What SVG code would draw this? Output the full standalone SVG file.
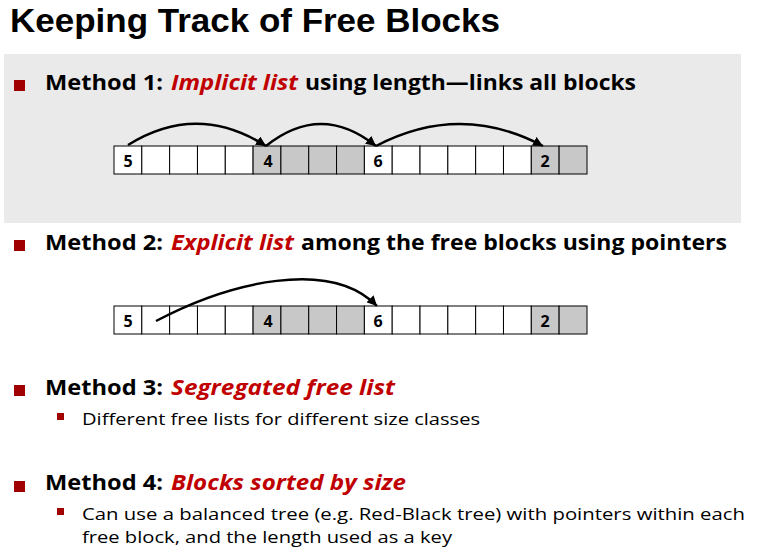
<svg xmlns="http://www.w3.org/2000/svg" width="762" height="551" viewBox="0 0 762 551">
  <defs>
    <style>
      .title { font-family: "Liberation Sans", Arial, sans-serif; font-weight: bold; font-size: 34px; fill: #000; }
      .head { font-family: "Open Sans", "Liberation Sans", sans-serif; font-weight: bold; font-size: 21px; fill: #000; }
      .em { font-family: "Open Sans", "Liberation Sans", sans-serif; font-weight: bold; font-style: italic; font-size: 21px; fill: #C00000; }
      .sub { font-family: "Open Sans", "Liberation Sans", sans-serif; font-size: 16.5px; fill: #000; }
      .num { font-family: "Open Sans", "Liberation Sans", sans-serif; font-weight: bold; font-size: 16px; fill: #000; text-anchor: middle; }
      .free { fill: #FFFFFF; stroke: #000; stroke-width: 1; }
      .used { fill: #C8C8C8; stroke: #000; stroke-width: 1; }
      .bullet { fill: #A00000; }
      .link { fill: none; stroke: #000; stroke-width: 2.5; marker-end: url(#head); }
    </style>
    <marker id="head" markerUnits="userSpaceOnUse" markerWidth="12" markerHeight="10" refX="10" refY="5" orient="auto">
      <path d="M0,0 L10,5 L0,10 Z" fill="#000"/>
    </marker>
    <!-- one heap row: 17 words, allocated words shaded -->
    <g id="heapRow">
      <rect class="free" x="114" y="0" width="27.82" height="28"/>
      <rect class="free" x="141.82" y="0" width="27.82" height="28"/>
      <rect class="free" x="169.64" y="0" width="27.82" height="28"/>
      <rect class="free" x="197.46" y="0" width="27.82" height="28"/>
      <rect class="free" x="225.28" y="0" width="27.82" height="28"/>
      <rect class="used" x="253.1" y="0" width="27.82" height="28"/>
      <rect class="used" x="280.92" y="0" width="27.82" height="28"/>
      <rect class="used" x="308.74" y="0" width="27.82" height="28"/>
      <rect class="used" x="336.56" y="0" width="27.82" height="28"/>
      <rect class="free" x="364.38" y="0" width="27.82" height="28"/>
      <rect class="free" x="392.2" y="0" width="27.82" height="28"/>
      <rect class="free" x="420.02" y="0" width="27.82" height="28"/>
      <rect class="free" x="447.84" y="0" width="27.82" height="28"/>
      <rect class="free" x="475.66" y="0" width="27.82" height="28"/>
      <rect class="free" x="503.48" y="0" width="27.82" height="28"/>
      <rect class="used" x="531.3" y="0" width="27.82" height="28"/>
      <rect class="used" x="559.12" y="0" width="27.88" height="28"/>
      <text class="num" x="128" y="21">5</text>
      <text class="num" x="268" y="21">4</text>
      <text class="num" x="378" y="21">6</text>
      <text class="num" x="545" y="21">2</text>
    </g>
  </defs>

  <rect x="0" y="0" width="762" height="551" fill="#FFFFFF"/>

  <!-- heading -->
  <text class="title" x="10" y="32" textLength="490" lengthAdjust="spacingAndGlyphs">Keeping Track of Free Blocks</text>

  <!-- highlighted panel for method 1 -->
  <rect x="4" y="54" width="737" height="169" fill="#EAEAEA"/>

  <!-- method 1 -->
  <g id="method1">
    <rect class="bullet" x="14" y="80" width="11" height="11"/>
    <text class="head" x="45" y="90" textLength="118" lengthAdjust="spacingAndGlyphs">Method 1:</text>
    <text class="em" x="171" y="90" textLength="127" lengthAdjust="spacingAndGlyphs">Implicit list</text>
    <text class="head" x="305" y="90" textLength="331" lengthAdjust="spacingAndGlyphs">using length—links all blocks</text>
  </g>

  <g id="implicitList">
    <use href="#heapRow" y="146"/>
  </g>

  <!-- method 2 -->
  <g id="method2">
    <rect class="bullet" x="14" y="240" width="11" height="11"/>
    <text class="head" x="45" y="250" textLength="118" lengthAdjust="spacingAndGlyphs">Method 2:</text>
    <text class="em" x="171" y="250" textLength="123" lengthAdjust="spacingAndGlyphs">Explicit list</text>
    <text class="head" x="301" y="250" textLength="426" lengthAdjust="spacingAndGlyphs">among the free blocks using pointers</text>
  </g>

  <g id="explicitList">
    <use href="#heapRow" y="306"/>
  </g>

  <!-- method 3 -->
  <g id="method3">
    <rect class="bullet" x="14" y="385" width="11" height="11"/>
    <text class="head" x="45" y="395" textLength="118" lengthAdjust="spacingAndGlyphs">Method 3:</text>
    <text class="em" x="171" y="395" textLength="224" lengthAdjust="spacingAndGlyphs">Segregated free list</text>
    <rect class="bullet" x="57" y="413" width="7" height="7"/>
    <text class="sub" x="82" y="425" textLength="398" lengthAdjust="spacingAndGlyphs">Different free lists for different size classes</text>
  </g>

  <!-- method 4 -->
  <g id="method4">
    <rect class="bullet" x="14" y="481" width="11" height="11"/>
    <text class="head" x="45" y="490" textLength="118" lengthAdjust="spacingAndGlyphs">Method 4:</text>
    <text class="em" x="171" y="490" textLength="235" lengthAdjust="spacingAndGlyphs">Blocks sorted by size</text>
    <rect class="bullet" x="57" y="508" width="7" height="7"/>
    <text class="sub" x="82" y="520" textLength="663" lengthAdjust="spacingAndGlyphs">Can use a balanced tree (e.g. Red-Black tree) with pointers within each</text>
    <text class="sub" x="82" y="543" textLength="370" lengthAdjust="spacingAndGlyphs">free block, and the length used as a key</text>
  </g>

  <!-- links between blocks -->
  <g id="connectors">
    <path class="link" d="M128,145 Q197,102 266,146"/>
    <path class="link" d="M266,146 Q321,102 376,146"/>
    <path class="link" d="M376,146 Q460,102 543,146"/>
    <path class="link" d="M156,321 C230,282 330,258 377,306"/>
  </g>
</svg>
